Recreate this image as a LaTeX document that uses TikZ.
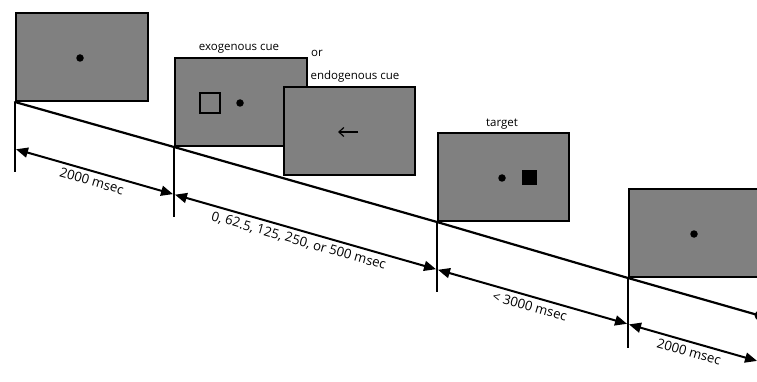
\documentclass[tikz,border=0pt]{standalone}
\usepackage{fontspec}
\setmainfont{Open Sans}
\usetikzlibrary{arrows.meta}

\tikzset{
  screen/.style={draw=black, line width=2pt, fill=black!50, anchor=south west,
    minimum width=132pt, minimum height=88pt, inner sep=0pt},
  axis/.style={line width=2.2pt, line cap=round},
  tick/.style={line width=2pt},
  dim/.style={line width=2pt, {Triangle[length=12pt,width=10pt]}-{Triangle[length=12pt,width=10pt]}, shorten <=1pt, shorten >=1pt},
  dimlabel/.style={font=\fontsize{13.2}{15}\selectfont, sloped, below, inner sep=0pt, yshift=-4pt},
  caption/.style={font=\fontsize{11.5}{13}\selectfont, inner sep=0pt},
  fix/.style={circle, fill=black, inner sep=0pt, minimum size=7.5pt},
}

\begin{document}
\begin{tikzpicture}[x=1pt, y=-1pt]
  \useasboundingbox (0,0) rectangle (757,382);
  \clip (0,0) rectangle (757,382);

  % screens of the trial sequence
  \node[screen] (s1) at (15,102) {};
  \node[screen] (s2) at (174,147) {};
  \node[screen, minimum width=131pt] (s3) at (283,176) {};
  \node[screen, minimum width=131pt] (s4) at (437,222) {};
  \node[screen, minimum width=140pt] (s5) at (628,278) {};

  % screen contents
  \node[fix] (f1) at (80,58) {};
  \node[draw=black, line width=1.3pt, minimum size=20pt, inner sep=0pt] (cuebox) at (210,103) {};
  \node[fix] (f2) at (240,103) {};
  \coordinate (arrR) at (358,132);
  \coordinate (arrL) at (338,132);
  \draw[line width=1.2pt, -{Straight Barb[length=5pt,width=9pt]}] (arrR) -- (arrL);
  \node[fix] (f4) at (502,178) {};
  \node[fill=black, minimum size=15pt, inner sep=0pt] (tgt) at (529,178) {};
  \node[fix] (f5) at (694,234) {};

  % captions
  \node[caption] (l2) at (239,49) {exogenous cue};
  \node[caption] (lor) at (317,53) {or};
  \node[caption] (l3) at (355,77) {endogenous cue};
  \node[caption] (l4) at (502,124) {target};

  % time line through the screen onsets
  \node[circle, fill=black, inner sep=0pt, minimum size=10pt] (enddot) at (759.5,315.5) {};
  \draw[axis] (s1.south west) -- (s2.south west) -- (s4.south west) -- (s5.south west) -- (enddot.center);

  % onset ticks
  \coordinate (t1) at (15,172);
  \coordinate (t2) at (174,217);
  \coordinate (t4) at (437,292);
  \coordinate (t5) at (628,348);
  \draw[tick] (s1.south west) -- (t1);
  \draw[tick] (s2.south west) -- (t2);
  \draw[tick] (s4.south west) -- (t4);
  \draw[tick] (s5.south west) -- (t5);

  % interval arrows
  \coordinate (a0) at (15,149);
  \coordinate (a1) at (174,194.4);
  \coordinate (a2) at (437,269.5);
  \coordinate (a3) at (628,324.1);
  \coordinate (a4) at (758,361.2);
  \draw[dim] (a0) -- node[dimlabel] {2000 msec} (a1);
  \draw[dim] (a1) -- node[dimlabel, pos=0.485] {0, 62.5, 125, 250, or 500 msec} (a2);
  \draw[dim] (a2) -- node[dimlabel] {< 3000 msec} (a3);
  \draw[dim] (a3) -- node[dimlabel, pos=0.49] {2000 msec} (a4);
\end{tikzpicture}
\end{document}
